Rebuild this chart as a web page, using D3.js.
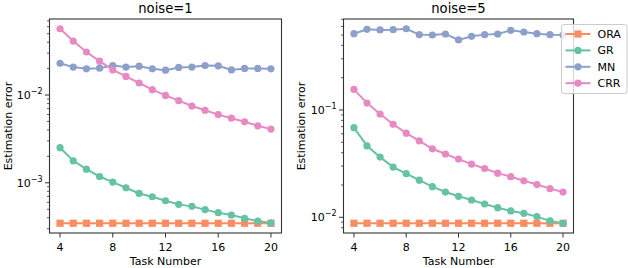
<!DOCTYPE html>
<html>
<head>
<meta charset="utf-8">
<script src="https://cdn.jsdelivr.net/npm/d3@7"></script>
<style>
  html, body { margin: 0; padding: 0; background: #fff; }
  svg { display: block; font-family: "DejaVu Sans", sans-serif; }
</style>
</head>
<body>
<div id="chart"></div>
<script>
const tasks = [4, 5, 6, 7, 8, 9, 10, 11, 12, 13, 14, 15, 16, 17, 18, 19, 20];
const xTicks = [4, 8, 12, 16, 20];
const seriesNames = ['ORA', 'GR', 'MN', 'CRR'];
const titles = ['noise=1', 'noise=5'];

// noise=1
const ora1 = [0.000346, 0.000346, 0.000346, 0.000346, 0.000346, 0.000346, 0.000346, 0.000346, 0.000346,
  0.000346, 0.000346, 0.000346, 0.000346, 0.000346, 0.000346, 0.000346, 0.000346];
const gr1 = [0.00251, 0.00178, 0.00143, 0.00118, 0.00102, 0.000878, 0.000756, 0.000694, 0.000625,
  0.000568, 0.000539, 0.000495, 0.000457, 0.00043, 0.000394, 0.000367, 0.000349];
const mn1 = [0.0230, 0.0208, 0.0199, 0.0202, 0.0217, 0.0208, 0.0213, 0.0199, 0.0192,
  0.0206, 0.0208, 0.0217, 0.0215, 0.0193, 0.0201, 0.0201, 0.0199];
const crr1 = [0.0569, 0.0412, 0.0309, 0.0243, 0.0193, 0.0163, 0.0137, 0.0115, 0.0099,
  0.00862, 0.0075, 0.00671, 0.00598, 0.00545, 0.00495, 0.00446, 0.00409];

// noise=5
const ora5 = [0.0088, 0.0088, 0.0088, 0.0088, 0.0088, 0.0088, 0.0088, 0.0088, 0.0088,
  0.0088, 0.0088, 0.0088, 0.0088, 0.0088, 0.0088, 0.0088, 0.0088];
const gr5 = [0.0685, 0.0463, 0.0364, 0.0294, 0.0255, 0.0222, 0.0193, 0.0172, 0.0157,
  0.0145, 0.0133, 0.0123, 0.01146, 0.0109, 0.01015, 0.00926, 0.0088];
const mn5 = [0.514, 0.565, 0.557, 0.560, 0.572, 0.504, 0.500, 0.511, 0.450,
  0.486, 0.504, 0.511, 0.553, 0.533, 0.514, 0.504, 0.500];
const crr5 = [0.1556, 0.116, 0.0918, 0.0736, 0.0608, 0.0515, 0.0435, 0.0389, 0.0349,
  0.0313, 0.0285, 0.0258, 0.0239, 0.0219, 0.0202, 0.0185, 0.0172];

const COLORS = {ORA: '#fc8d62', GR: '#66c2a5', MN: '#8da0cb', CRR: '#e78ac3'};

const width = 628, height = 268;
const yTop = 19, yBottom = 233;
const panels = [
  {title: titles[0], left: 49.5, right: 281.5, ylabelX: 11.5, data: [ora1, gr1, mn1, crr1]},
  {title: titles[1], left: 343.5, right: 573.5, ylabelX: 304.5, data: [ora5, gr5, mn5, crr5]},
];

const svg = d3.select('#chart')
  .append('svg')
  .attr('width', width)
  .attr('height', height);

const supMinus = n => '\u2212' + Math.abs(n);

panels.forEach(p => drawPanel(p));
drawLegend();

function drawPanel(p) {
  const g = svg.append('g');

  const x = d3.scaleLinear()
    .domain([3.2, 20.8])
    .range([p.left, p.right]);

  // log limits with 5% margin, like matplotlib autoscale
  const all = p.data.flat();
  const lo = Math.log10(d3.min(all)), hi = Math.log10(d3.max(all));
  const m = (hi - lo) * 0.05;
  const y = d3.scaleLog()
    .domain([Math.pow(10, lo - m), Math.pow(10, hi + m)])
    .range([yBottom, yTop]);

  // y ticks
  const [d0, d1] = y.domain();
  const majors = [], minors = [];
  for (let e = Math.floor(Math.log10(d0)); e <= Math.ceil(Math.log10(d1)); e++) {
    for (let k = 1; k < 10; k++) {
      const v = k * Math.pow(10, e);
      if (v < d0 || v > d1) continue;
      if (k === 1) majors.push(e); else minors.push(v);
    }
  }

  g.selectAll('line.minor')
    .data(minors)
    .join('line')
    .attr('class', 'minor')
    .attr('x1', p.left - 2.5).attr('x2', p.left)
    .attr('y1', d => y(d)).attr('y2', d => y(d))
    .attr('stroke', '#333').attr('stroke-width', 0.8);

  g.selectAll('line.major')
    .data(majors)
    .join('line')
    .attr('class', 'major')
    .attr('x1', p.left - 4.5).attr('x2', p.left)
    .attr('y1', d => y(Math.pow(10, d))).attr('y2', d => y(Math.pow(10, d)))
    .attr('stroke', '#333').attr('stroke-width', 1);

  const yl = g.selectAll('text.ylab')
    .data(majors)
    .join('text')
    .attr('class', 'ylab')
    .attr('x', p.left - 7)
    .attr('y', d => y(Math.pow(10, d)) + 4)
    .attr('text-anchor', 'end')
    .attr('font-size', '11px')
    .attr('fill', '#000');
  yl.append('tspan').text('10');
  yl.append('tspan')
    .attr('font-size', '8px')
    .attr('dy', -5)
    .text(d => supMinus(d));

  // x ticks
  g.selectAll('line.xt')
    .data(xTicks)
    .join('line')
    .attr('class', 'xt')
    .attr('x1', d => x(d)).attr('x2', d => x(d))
    .attr('y1', yBottom).attr('y2', yBottom + 4.5)
    .attr('stroke', '#333').attr('stroke-width', 1);

  g.selectAll('text.xlab')
    .data(xTicks)
    .join('text')
    .attr('class', 'xlab')
    .attr('x', d => x(d))
    .attr('y', yBottom + 17.5)
    .attr('text-anchor', 'middle')
    .attr('font-size', '11px')
    .text(d => d);

  // series
  const line = d3.line()
    .x((d, i) => x(tasks[i]))
    .y(d => y(d));

  p.data.forEach((vals, si) => {
    const name = seriesNames[si];
    const c = COLORS[name];
    g.append('path')
      .attr('d', line(vals))
      .attr('fill', 'none')
      .attr('stroke', c)
      .attr('stroke-width', 2);
    if (name === 'ORA') {
      g.selectAll('rect.m' + si)
        .data(vals)
        .join('rect')
        .attr('x', (d, i) => x(tasks[i]) - 3.6)
        .attr('y', d => y(d) - 3.6)
        .attr('width', 7.2).attr('height', 7.2)
        .attr('fill', c);
    } else {
      g.selectAll('circle.m' + si)
        .data(vals)
        .join('circle')
        .attr('cx', (d, i) => x(tasks[i]))
        .attr('cy', d => y(d))
        .attr('r', 3.6)
        .attr('fill', c);
    }
  });

  // frame
  g.append('rect')
    .attr('x', p.left).attr('y', yTop)
    .attr('width', p.right - p.left).attr('height', yBottom - yTop)
    .attr('fill', 'none')
    .attr('stroke', '#333')
    .attr('stroke-width', 1.1);

  // labels
  g.append('text')
    .attr('x', (p.left + p.right) / 2)
    .attr('y', 13)
    .attr('text-anchor', 'middle')
    .attr('font-size', '13.2px')
    .text(p.title);

  g.append('text')
    .attr('x', (p.left + p.right) / 2)
    .attr('y', 265)
    .attr('text-anchor', 'middle')
    .attr('font-size', '11px')
    .text('Task Number');

  g.append('text')
    .attr('transform', `translate(${p.ylabelX},${(yTop + yBottom) / 2}) rotate(-90)`)
    .attr('text-anchor', 'middle')
    .attr('font-size', '11px')
    .text('Estimation error');
}

function drawLegend() {
  const lg = svg.append('g').attr('transform', 'translate(561.5,24.5)');
  lg.append('rect')
    .attr('width', 65.5).attr('height', 69)
    .attr('rx', 2.5)
    .attr('fill', 'rgba(255,255,255,0.8)')
    .attr('stroke', '#ccc')
    .attr('stroke-width', 1);

  const row = lg.selectAll('g.row')
    .data(seriesNames)
    .join('g')
    .attr('class', 'row')
    .attr('transform', (d, i) => `translate(0,${9.5 + i * 16.4})`);

  row.append('line')
    .attr('x1', 4).attr('x2', 29)
    .attr('stroke', d => COLORS[d])
    .attr('stroke-width', 2);

  row.filter(d => d === 'ORA').append('rect')
    .attr('x', 12.9).attr('y', -3.6)
    .attr('width', 7.2).attr('height', 7.2)
    .attr('fill', d => COLORS[d]);

  row.filter(d => d !== 'ORA').append('circle')
    .attr('cx', 16.5)
    .attr('r', 3.6)
    .attr('fill', d => COLORS[d]);

  row.append('text')
    .attr('x', 36)
    .attr('y', 4)
    .attr('font-size', '11px')
    .text(d => d);
}
</script>
</body>
</html>
